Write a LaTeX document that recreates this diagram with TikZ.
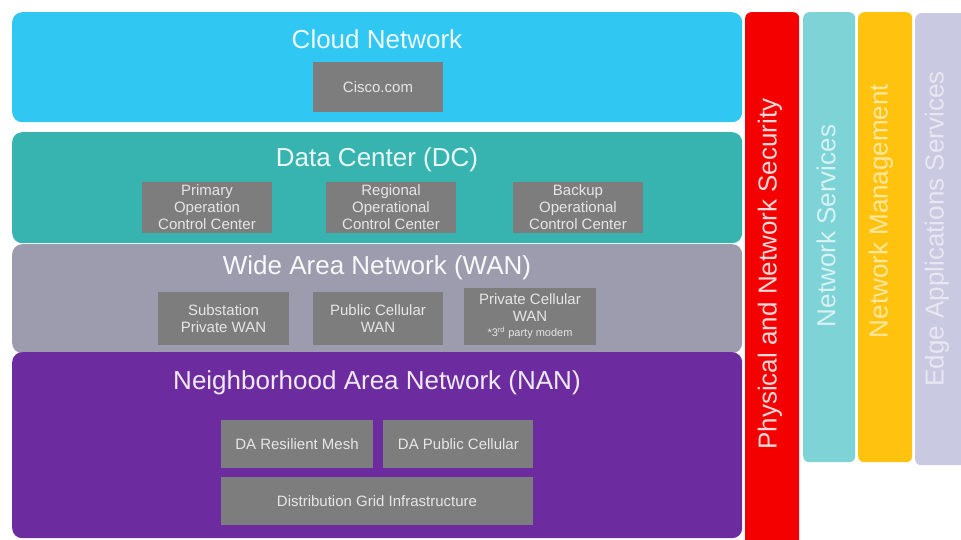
\documentclass[tikz,border=0pt]{standalone}
\usepackage{fontspec}
\setmainfont{Liberation Sans}
\usetikzlibrary{positioning}
\definecolor{cloudblue}{HTML}{31C7F3}
\definecolor{dcteal}{HTML}{38B4B0}
\definecolor{wangray}{HTML}{9D9CAF}
\definecolor{nanpurple}{HTML}{6C2C9F}
\definecolor{boxgray}{HTML}{7E7D7E}
\definecolor{boxtext}{HTML}{E6E6E6}
\definecolor{secred}{HTML}{F50000}
\definecolor{servteal}{HTML}{7DD3D6}
\definecolor{mgmtyellow}{HTML}{FFC20F}
\definecolor{edgelilac}{HTML}{C9CAE1}

\begin{document}
\begin{tikzpicture}[x=1pt, y=-1pt,
      layer/.style={rounded corners=10pt, inner sep=0pt, anchor=north west},
      layertitle/.style={font=\fontsize{26}{30}\selectfont, inner sep=0pt},
      unit/.style={fill=boxgray, text=boxtext, align=center, inner sep=0pt,
        font=\fontsize{15}{17}\selectfont},
      bar/.style={rounded corners=6pt, inner sep=0pt, anchor=north west},
      bartext/.style={rotate=90, font=\fontsize{26}{30}\selectfont, inner sep=0pt},
    ]
    \path[use as bounding box] (0,0) rectangle (961,540);
    \clip (0,0) rectangle (961,540);

    % Layers
    \node[layer, fill=cloudblue, minimum width=730pt, minimum height=110pt] (cloud) at (12,12) {};
    \node[layer, fill=dcteal, minimum width=730pt, minimum height=111pt] (dc) at (12,132) {};
    \node[layer, fill=wangray, minimum width=730pt, minimum height=109pt] (wan) at (12,244) {};
    \node[layer, fill=nanpurple, minimum width=730pt, minimum height=186pt] (nan) at (12,352) {};

    % Cloud
    \node[layertitle, text=white!92!cloudblue] (cloudtitle) at (377,39) {Cloud Network};
    \node[unit, minimum width=130pt, minimum height=50pt] (cisco) at (378,87) {Cisco.com};

    % Data center
    \node[layertitle, text=white!90!dcteal] (dctitle) at (377,160) {Data Center (DC)};
    \foreach \x/\name/\txt in {207/primary/Primary\\Operation\\Control Center,
        391/regional/Regional\\Operational\\Control Center,
        578/backup/Backup\\Operational\\Control Center}
      \node[unit, minimum width=130pt, minimum height=51pt] (\name) at (\x,207.5) {\txt};

    % WAN
    \node[layertitle, text=white!94!wangray] (wantitle) at (377,268) {Wide Area Network (WAN)};
    \node[unit, minimum width=131pt, minimum height=53pt] (substation) at (223.5,318.5)
      {Substation\\Private WAN};
    \node[unit, minimum width=130pt, minimum height=53pt] (publiccell) at (378,318.5)
      {Public Cellular\\WAN};
    \node[unit, minimum width=132pt, minimum height=57pt] (privatecell) at (530,316.5)
      {Private Cellular\\WAN\\[-2pt]{\fontsize{11}{12}\selectfont *3\textsuperscript{rd} party modem}};

    % NAN
    \node[layertitle, text=white!90!nanpurple] (nantitle) at (377,383) {Neighborhood Area Network (NAN)};
    \node[unit, minimum width=152pt, minimum height=48pt] (mesh) at (297,444) {DA Resilient Mesh};
    \node[unit, minimum width=150pt, minimum height=48pt, right=10pt of mesh] (dacell) {DA Public Cellular};
    \node[unit, minimum width=312pt, minimum height=48pt] (grid) at (377,501)
      {Distribution Grid Infrastructure};

    % Vertical bars
    \node[bar, fill=secred, minimum width=54pt, minimum height=534pt] (security) at (745,12) {};
    \node[bar, fill=servteal, minimum width=52pt, minimum height=450pt] (services) at (803,12) {};
    \node[bar, fill=mgmtyellow, minimum width=54pt, minimum height=450pt] (management) at (858,12) {};
    \node[bar, fill=edgelilac, minimum width=60pt, minimum height=452pt] (edgeapps) at (915,13) {};

    \node[bartext, text=white!85!secred] (securitytext) at (770,274) {Physical and Network Security};
    \node[bartext, text=white!70!servteal] (servicestext) at (826,226) {Network Services};
    \node[bartext, text=white!60!mgmtyellow] (managementtext) at (881,211) {Network Management};
    \node[bartext, text=white!55!edgelilac] (edgeappstext) at (937,229) {Edge Applications Services};
  \end{tikzpicture}
\end{document}
